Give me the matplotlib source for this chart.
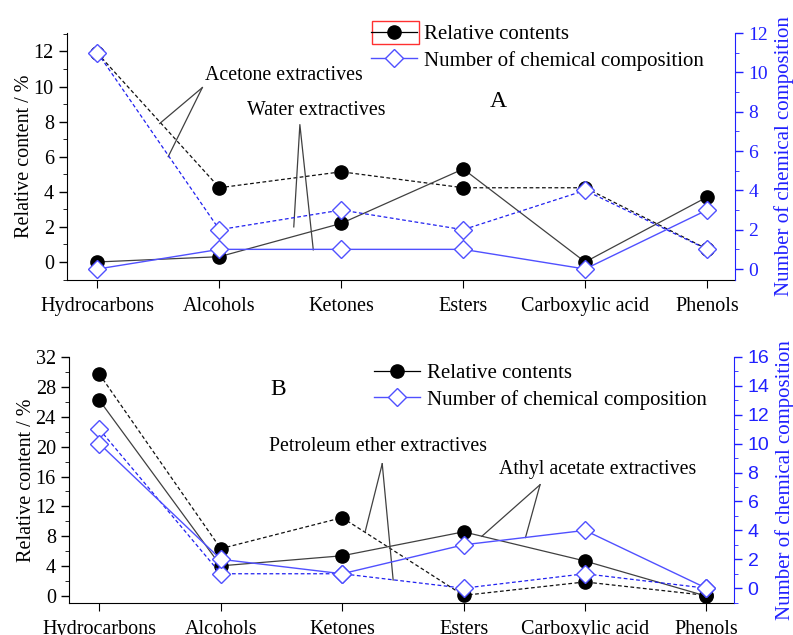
import matplotlib
matplotlib.use('Agg')
import matplotlib.pyplot as plt
from matplotlib.ticker import MultipleLocator
from matplotlib.patches import Rectangle

plt.rcParams['font.family'] = 'Liberation Serif'

groups = ['Hydrocarbons', 'Alcohols', 'Ketones', 'Esters', 'Carboxylic acid', 'Phenols']
x = list(range(len(groups)))

# panel A: acetone (dashed) and water (solid) extractives
acetone_content = [11.9, 4.23, 5.14, 4.23, 4.23, 0.74]
water_content = [0.0, 0.3, 2.2, 5.3, 0.0, 3.7]
acetone_number = [11, 2, 3, 2, 4, 1]
water_number = [0, 1, 1, 1, 0, 3]

# panel B: petroleum ether (dashed) and athyl acetate (solid) extractives
petrol_content = [29.7, 6.35, 10.5, 0.1, 1.9, 0.1]
athyl_content = [26.2, 4.05, 5.4, 8.6, 4.7, 0.0]
petrol_number = [11, 1, 1, 0, 1, 0]
athyl_number = [10, 2, 1, 3, 4, 0]

BLUE = '#5050ff'
BLUE_D = '#2020f0'
BLK_S = '#404040'
BLK_D = '#111111'

fig = plt.figure(figsize=(7.93, 6.35), dpi=100)


def panel(rect, dash_c, solid_c, dash_n, solid_n, lylim, ryl, lmaj, lmin, rfont):
    ax = fig.add_axes(rect)
    ax.plot(x, dash_c, ls=(0, (3, 2)), lw=0.9, color=BLK_D, marker='o', ms=9.5,
            mfc='black', mec='black')
    ax.plot(x, solid_c, ls='-', lw=0.9, color=BLK_S, marker='o', ms=9.5,
            mfc='black', mec='black')
    ax.set_xlim(-0.25, 5.23)
    ax.set_ylim(*lylim)
    ax.set_xticks(x)
    ax.set_xticklabels(groups, fontsize=14.5)
    ax.yaxis.set_major_locator(MultipleLocator(lmaj))
    ax.yaxis.set_minor_locator(MultipleLocator(lmin))
    ax.tick_params(axis='y', labelsize=14.5, direction='out', length=6, width=1)
    ax.tick_params(axis='y', which='minor', direction='out', length=3)
    ax.tick_params(axis='x', direction='out', length=6, pad=6)
    ax.spines['top'].set_visible(False)
    ax.spines['right'].set_visible(False)
    ax.set_ylabel('Relative content / %', fontsize=14.5, labelpad=0)

    ax2 = ax.twinx()
    ax2.plot(x, dash_n, ls=(0, (3, 2)), lw=0.9, color=BLUE_D, marker='D', ms=9,
             mfc='white', mec=BLUE, mew=1.0)
    ax2.plot(x, solid_n, ls='-', lw=1.0, color=BLUE, marker='D', ms=9,
             mfc='white', mec=BLUE, mew=1.0)
    ax2.set_ylim(*ryl)
    ax2.yaxis.set_major_locator(MultipleLocator(2))
    ax2.yaxis.set_minor_locator(MultipleLocator(1))
    ax2.tick_params(axis='y', colors='#2020ff', direction='out', length=6, width=1)
    ax2.tick_params(axis='y', which='minor', colors='#2020ff', direction='out', length=3)
    for t in ax2.get_yticklabels():
        t.set_fontfamily(rfont)
        t.set_fontsize(14)
    for s in ['top', 'left', 'bottom']:
        ax2.spines[s].set_visible(False)
    ax2.spines['right'].set_color('#2020ff')
    ax2.set_ylabel('Number of chemical composition', fontsize=15, color='#2020ff',
                   labelpad=4)
    return ax, ax2


def legend(ax, anchor):
    h1, = ax.plot([], [], ls='-', lw=0.9, color='black', marker='o', ms=9.5)
    h2, = ax.plot([], [], ls='-', lw=1.0, color=BLUE, marker='D', ms=9,
                  mfc='white', mec=BLUE)
    leg = fig.legend([h1, h2], ['Relative contents', 'Number of chemical composition'],
                     loc='upper left', bbox_to_anchor=anchor, frameon=False,
                     fontsize=15, handlelength=2.2, handletextpad=0.35,
                     labelspacing=0.3, borderpad=0, borderaxespad=0)
    return leg


def leader(ax, text_xy, label, ends, apex, fs=14.3):
    ax.text(text_xy[0], text_xy[1], label, fontsize=fs, ha='left', va='center')
    for e in ends:
        ax.plot([e[0], apex[0]], [e[1], apex[1]], color=BLK_S, lw=0.9)


# panel A
axA, axA2 = panel([0.0845, 0.559, 0.8425, 0.389], acetone_content, water_content,
                  acetone_number, water_number, (-1.03, 13.05), (-0.56, 12.0), 2, 1, 'Liberation Serif')
legend(axA, (0.468, 0.961))
leader(axA, (0.885, 10.63), 'Acetone extractives', [(0.51, 7.89), (0.58, 6.0)], (0.86, 9.94))
axA.plot([1.61, 1.66, 1.77], [2.0, 7.83, 0.69], color=BLK_S, lw=0.9)
axA.text(1.23, 8.63, 'Water extractives', fontsize=14.3, ha='left', va='center')
axA.text(3.29, 9.14, 'A', fontsize=17, ha='center', va='center')
fig.patches.append(Rectangle((372 / 793, 1 - 44 / 635), 47 / 793, 23 / 635,
                             transform=fig.transFigure, fill=False,
                             edgecolor='#ff3030', lw=1.0))

# panel B
axB, axB2 = panel([0.087, 0.050, 0.839, 0.388], petrol_content, athyl_content,
                  petrol_number, athyl_number, (-0.95, 32.0), (-1.04, 16.0), 4, 2, 'Liberation Sans')
legend(axB, (0.472, 0.427))
leader(axB, (1.40, 20.0), 'Petroleum ether extractives', [(2.19, 8.65)], (2.33, 17.7))
axB.plot([2.33, 2.42], [17.7, 2.16], color=BLK_S, lw=0.9)
leader(axB, (3.29, 17.0), 'Athyl acetate extractives', [(3.15, 8.0), (3.51, 7.84)], (3.63, 14.9))
axB.text(1.47, 27.7, 'B', fontsize=17, ha='center', va='center')

fig.savefig('out.png', dpi=100)
